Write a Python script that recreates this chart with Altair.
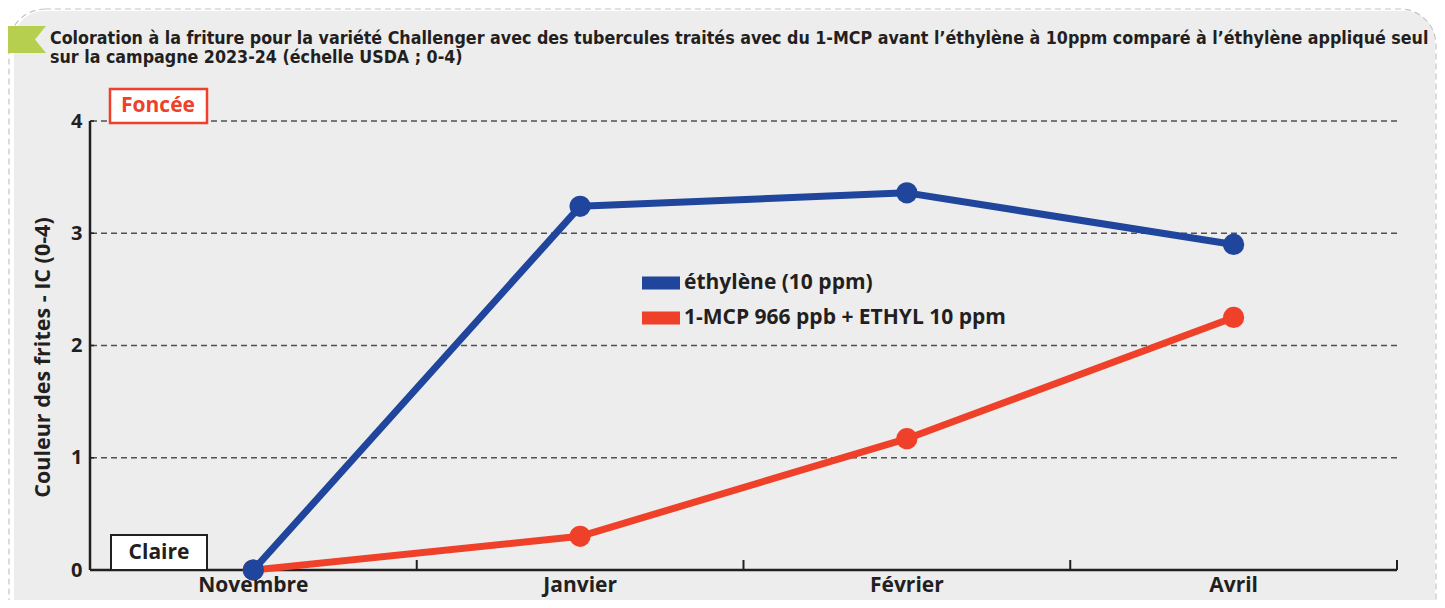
import altair as alt
import pandas as pd

months = ["Novembre", "Janvier", "Février", "Avril"]
ethylene = [0.0, 3.24, 3.36, 2.90]
mcp = [0.0, 0.30, 1.17, 2.25]
series_names = ["éthylène (10 ppm)", "1-MCP 966 ppb + ETHYL 10 ppm"]
colors = ["#1f459c", "#ef4129"]
y_ticks = [0, 1, 2, 3, 4]
grid_values = [1, 2, 3, 4]
box_labels = ["Foncée", "Claire"]
title_lines = [
    "Coloration à la friture pour la variété Challenger avec des tubercules traités avec du 1-MCP avant l’éthylène à 10ppm comparé à l’éthylène appliqué seul",
    "sur la campagne 2023-24 (échelle USDA ; 0-4)",
]
y_title = "Couleur des frites - IC (0-4)"

W, H = 1307, 449
FONT = "Open Sans"
TITLE_FONT = "DejaVu Sans Condensed"
TXT = "#231f20"

df_eth = pd.DataFrame({"mois": months, "valeur": ethylene, "serie": series_names[0]})
df_mcp = pd.DataFrame({"mois": months, "valeur": mcp, "serie": series_names[1]})
one = pd.DataFrame({"k": [0]})

x_scale = alt.Scale(domain=months, paddingInner=0, paddingOuter=0)
y_scale = alt.Scale(domain=[0, 4], nice=False)

axis_x = alt.Axis(title=None, labelAngle=0, grid=False, domain=False, ticks=False,
                  labelFont=FONT, labelFontSize=21, labelFontWeight="bold",
                  labelColor=TXT, labelPadding=4, zindex=1)
axis_y = alt.Axis(values=y_ticks, title=y_title, grid=False, domain=False, ticks=False,
                  format="d", labelFont=FONT, labelFontSize=20, labelFontWeight="bold",
                  labelColor=TXT, labelPadding=8, titleFont=FONT, titleFontSize=21.5,
                  titleFontWeight="bold", titleColor=TXT, titlePadding=16, titleY=236,
                  zindex=1)

panel = alt.Chart(one).mark_rect(fill="#ededed", cornerRadius=30).encode(
    x=alt.value(-76), x2=alt.value(1345), y=alt.value(-110), y2=alt.value(520))
border = alt.Chart(one).mark_rect(fill="#ffffff", fillOpacity=0, stroke="#c4c4c4",
                                  strokeWidth=1.2, strokeDash=[6, 4], cornerRadius=36).encode(
    x=alt.value(-81), x2=alt.value(1346), y=alt.value(-112), y2=alt.value(520))
flag = alt.Chart(one).mark_point(shape="M-1,-0.675L1,-0.675L0.45,0L1,0.675L-1,0.675Z", size=1600,
                                 filled=True, fill="#b7cf4e", opacity=1, strokeWidth=0).encode(
    x=alt.value(-64), y=alt.value(-81.5))
title = alt.Chart(one).mark_text(align="left", baseline="alphabetic", font=TITLE_FONT,
                                 fontWeight="bold", fontSize=17.7, lineHeight=19, color=TXT).encode(
    x=alt.value(-40), y=alt.value(-77), text=alt.value(title_lines))

grid = alt.Chart(pd.DataFrame({"g": grid_values})).mark_rule(
    color="#505050", strokeWidth=1.3, strokeDash=[6, 4]).encode(
    y=alt.Y("g:Q", scale=y_scale, axis=axis_y))
y_small_ticks = alt.Chart(pd.DataFrame({"g": y_ticks})).mark_rule(color=TXT, strokeWidth=1.5).encode(
    y=alt.Y("g:Q", scale=y_scale, axis=axis_y), x=alt.value(0), x2=alt.value(4))

x_line = alt.Chart(one).mark_rule(color=TXT, strokeWidth=2.5).encode(
    x=alt.value(0), x2=alt.value(W), y=alt.value(H))
y_line = alt.Chart(one).mark_rule(color=TXT, strokeWidth=2.5).encode(
    x=alt.value(0), y=alt.value(0), y2=alt.value(H))
ticks_left = alt.Chart(pd.DataFrame({"mois": months[1:]})).mark_rule(color=TXT, strokeWidth=2).encode(
    x=alt.X("mois:N", scale=x_scale, axis=axis_x, bandPosition=0),
    y=alt.value(H - 10), y2=alt.value(H))
tick_end = alt.Chart(pd.DataFrame({"mois": months[-1:]})).mark_rule(color=TXT, strokeWidth=2).encode(
    x=alt.X("mois:N", scale=x_scale, axis=axis_x, bandPosition=1),
    y=alt.value(H - 10), y2=alt.value(H))

def series_layers(df, col):
    base = alt.Chart(df).encode(
        x=alt.X("mois:N", scale=x_scale, axis=axis_x),
        y=alt.Y("valeur:Q", scale=y_scale, axis=axis_y))
    line = base.mark_line(strokeWidth=7, strokeJoin="round", color=col)
    pts = base.mark_circle(size=450, color=col, opacity=1)
    return [line, pts]

legend_layers = []
for i, (name, col) in enumerate(zip(series_names, colors)):
    yy = 162 + 35 * i
    legend_layers.append(alt.Chart(one).mark_rule(color=col, strokeWidth=13).encode(
        x=alt.value(552), x2=alt.value(590), y=alt.value(yy)))
    legend_layers.append(alt.Chart(one).mark_text(font=FONT, fontSize=21, fontWeight="bold",
                                                  color=TXT, align="left", baseline="middle").encode(
        x=alt.value(594), y=alt.value(yy), text=alt.value(name)))

box_f = alt.Chart(one).mark_rect(fill="#ffffff", stroke="#ef4129", strokeWidth=2.5).encode(
    x=alt.value(20), x2=alt.value(117), y=alt.value(-32), y2=alt.value(2))
txt_f = alt.Chart(one).mark_text(font=FONT, fontSize=21, fontWeight="bold", color="#ef4129",
                                 align="center", baseline="middle").encode(
    x=alt.value(68), y=alt.value(-15), text=alt.value(box_labels[0]))
box_c = alt.Chart(one).mark_rect(fill="#ffffff", stroke=TXT, strokeWidth=2).encode(
    x=alt.value(21), x2=alt.value(117), y=alt.value(414), y2=alt.value(449))
txt_c = alt.Chart(one).mark_text(font=FONT, fontSize=21, fontWeight="bold", color=TXT,
                                 align="center", baseline="middle").encode(
    x=alt.value(69), y=alt.value(432), text=alt.value(box_labels[1]))

layers = [panel, border, flag, title, grid, x_line, y_line, y_small_ticks, ticks_left, tick_end]
layers += series_layers(df_mcp, colors[1])
layers += series_layers(df_eth, colors[0])
layers += legend_layers
layers += [box_f, txt_f, box_c, txt_c]

chart = alt.layer(*layers).properties(
    width=W, height=H,
    autosize=alt.AutoSizeParams(type="none"),
    padding={"left": 82, "top": 113, "right": 40, "bottom": 30},
    background="#ffffff",
).configure_view(strokeWidth=0)

chart.save("out.html", embed_options={"renderer": "svg", "actions": False})
